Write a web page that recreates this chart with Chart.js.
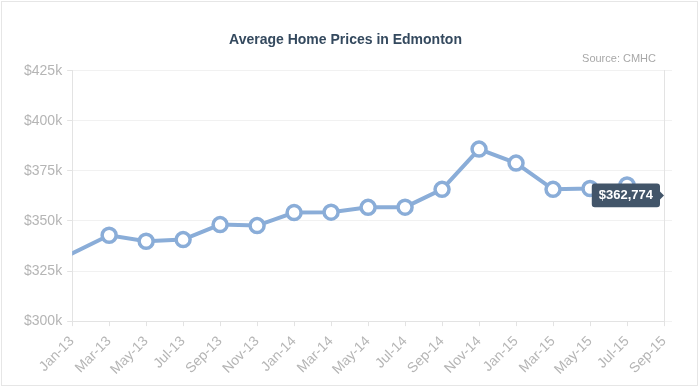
<!DOCTYPE html>
<html>
<head>
    <title>Average Home Prices in Edmonton</title>
    <script src="https://cdn.jsdelivr.net/npm/chart.js"></script>
    <style>
        body { margin: 0; background: #fff; }
        #wrap { position: relative; width: 700px; height: 388px; }
        #frame { position: absolute; left: 1px; top: 1px; width: 697px; height: 385px; border: 1px solid #e6e6e6; box-sizing: border-box; pointer-events: none; }
    </style>
</head>
<body>
    <div id="wrap">
        <canvas id="chart" width="700" height="388"></canvas>
        <div id="frame"></div>
    </div>

    <script>
        // tick labels along the bottom, every two months from Jan-13
        const tickLabels = ['Jan-13', 'Mar-13', 'May-13', 'Jul-13', 'Sep-13', 'Nov-13', 'Jan-14', 'Mar-14',
            'May-14', 'Jul-14', 'Sep-14', 'Nov-14', 'Jan-15', 'Mar-15', 'May-15', 'Jul-15', 'Sep-15'];

        // points of the series (month label, price)
        const pointMonths = ['Nov-12', 'Mar-13', 'May-13', 'Jul-13', 'Sep-13', 'Nov-13', 'Jan-14', 'Mar-14',
            'May-14', 'Jul-14', 'Sep-14', 'Nov-14', 'Jan-15', 'Mar-15', 'May-15', 'Jul-15'];
        const prices = [324600, 342900, 339900, 340700, 348200, 347700, 354200, 354400,
            356800, 356900, 365800, 385900, 378900, 365800, 366200, 368000];

        // value shown in the tooltip
        const tooltipMonth = 'Sep-15';
        const tooltipPrice = 362774;

        const monthNames = ['Jan', 'Feb', 'Mar', 'Apr', 'May', 'Jun', 'Jul', 'Aug', 'Sep', 'Oct', 'Nov', 'Dec'];
        function monthIndex(label) {
            const [m, y] = label.split('-');
            return (parseInt(y) - 13) * 12 + monthNames.indexOf(m);
        }

        const lineColor = '#8aadd8';
        const gridColor = '#f1f1f1';
        const axisColor = '#e3e3e3';
        const tickColor = '#b5b5b5';

        const sourceNote = {
            id: 'sourceNote',
            afterDraw(chart) {
                const c = chart.ctx;
                c.save();
                c.font = '11px "Liberation Sans", Arial, sans-serif';
                c.fillStyle = '#a8a8a8';
                c.textAlign = 'right';
                c.textBaseline = 'middle';
                c.fillText('Source: CMHC', chart.chartArea.right - 8, chart.chartArea.top - 12);
                c.restore();
            }
        };

        Chart.defaults.font.family = '"Liberation Sans", Arial, sans-serif';

        const yScaleBase = {
            min: 300000,
            max: 425000,
            border: { color: axisColor },
            ticks: { stepSize: 25000 }
        };

        const ctx = document.getElementById('chart').getContext('2d');
        const chart = new Chart(ctx, {
            type: 'line',
            data: {
                datasets: [{
                    label: 'Average price',
                    data: pointMonths.map((m, i) => ({ x: monthIndex(m), y: prices[i] })),
                    borderColor: lineColor,
                    borderWidth: 4,
                    pointRadius: 7,
                    pointHoverRadius: 7,
                    pointBorderWidth: 3.5,
                    pointBackgroundColor: '#fff',
                    pointBorderColor: lineColor,
                    tension: 0,
                    clip: 0
                }, {
                    label: 'Tooltip',
                    data: [{ x: monthIndex(tooltipMonth), y: tooltipPrice }],
                    showLine: false,
                    pointRadius: 0,
                    pointHoverRadius: 0
                }]
            },
            options: {
                responsive: false,
                animation: false,
                events: [],
                layout: { padding: { left: 19, right: 28, top: 0, bottom: 3 } },
                scales: {
                    x: {
                        type: 'linear',
                        min: 0,
                        max: 32,
                        border: { color: axisColor },
                        grid: { drawOnChartArea: false, color: axisColor, tickLength: 5 },
                        afterBuildTicks: (scale) => {
                            scale.ticks = tickLabels.map(l => ({ value: monthIndex(l) }));
                        },
                        ticks: {
                            autoSkip: false,
                            minRotation: 45,
                            maxRotation: 45,
                            color: tickColor,
                            font: { size: 14 },
                            padding: 7,
                            callback: (v) => tickLabels.find(l => monthIndex(l) === v)
                        }
                    },
                    y: Object.assign({}, yScaleBase, {
                        position: 'left',
                        grid: { color: gridColor, tickColor: axisColor, tickLength: 5 },
                        ticks: {
                            stepSize: 25000,
                            color: tickColor,
                            font: { size: 14 },
                            padding: 5,
                            callback: (v) => '$' + (v / 1000) + 'k'
                        }
                    }),
                    y2: Object.assign({}, yScaleBase, {
                        position: 'right',
                        grid: { drawOnChartArea: false, color: gridColor, tickLength: 8 },
                        ticks: { stepSize: 25000, display: false }
                    })
                },
                plugins: {
                    legend: { display: false },
                    title: {
                        display: true,
                        text: 'Average Home Prices in Edmonton',
                        color: '#34495e',
                        font: { size: 14, weight: 'bold' },
                        padding: { top: 32, bottom: 22 }
                    },
                    tooltip: {
                        backgroundColor: '#425569',
                        bodyColor: '#fff',
                        bodyFont: { size: 13, weight: 'bold' },
                        padding: { x: 7, y: 4 },
                        cornerRadius: 3,
                        caretSize: 4,
                        caretPadding: 0,
                        displayColors: false,
                        xAlign: 'right',
                        yAlign: 'center',
                        callbacks: {
                            title: () => '',
                            label: (c) => '$' + c.parsed.y.toLocaleString('en-US')
                        }
                    }
                }
            },
            plugins: [sourceNote]
        });

        chart.tooltip.setActiveElements([{ datasetIndex: 1, index: 0 }], { x: 0, y: 0 });
        chart.update();
    </script>
</body>
</html>
